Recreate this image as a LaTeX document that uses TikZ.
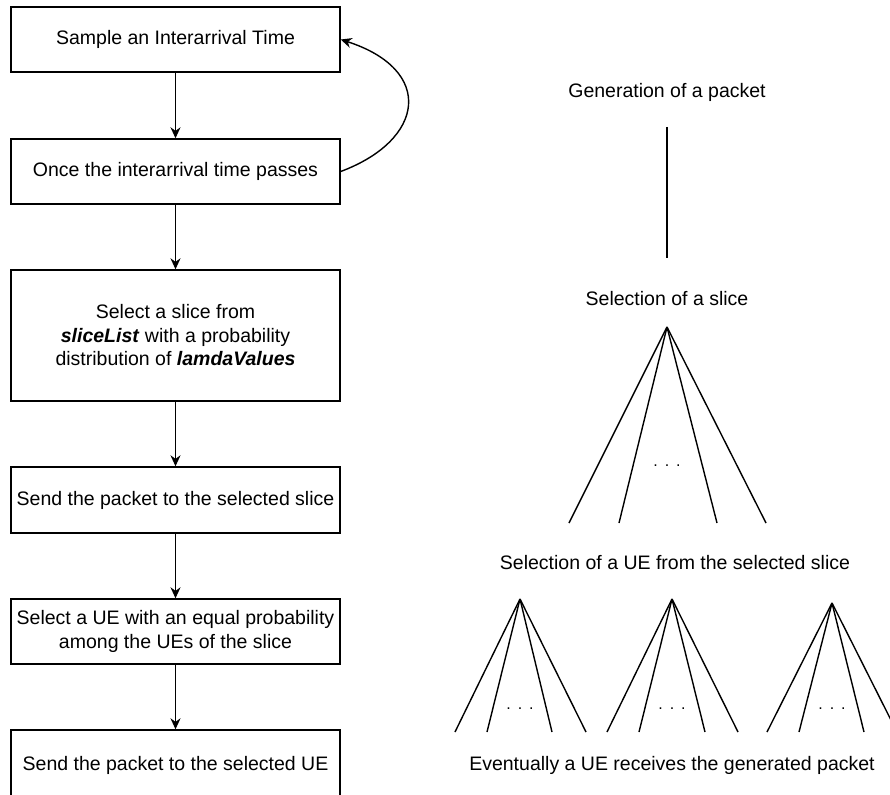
\documentclass[tikz,border=0pt]{standalone}
\usepackage{fontspec}
\setmainfont{Liberation Sans}
\usetikzlibrary{arrows.meta}

\tikzset{
  stepbox/.style={draw,line width=1.4pt,minimum width=329pt,inner sep=2pt,align=center,font=\fontsize{19.5}{23.5}\selectfont},
  lbl/.style={font=\fontsize{19.5}{23.5}\selectfont},
  dots/.style={font=\fontsize{16}{18}\selectfont},
  fan/.style={line width=1.4pt},
  flow/.style={line width=1.4pt,->,>={Stealth[length=11pt,width=10pt]}},
}

\begin{document}
\begin{tikzpicture}[x=1pt,y=-1pt]
    \useasboundingbox (0,0) rectangle (890,794);

    % left column
    \node[stepbox,minimum height=65pt] (sample) at (175.5,39.5) {Sample an Interarrival Time};
    \node[stepbox,minimum height=65pt] (passes) at (175.5,171.5) {Once the interarrival time passes};
    \node[stepbox,minimum height=131pt] (slice) at (175.5,335.5) {Select a slice from\\\textbf{\textit{sliceList}} with a probability\\distribution of \textbf{\textit{lamdaValues}}};
    \node[stepbox,minimum height=66pt] (sendslice) at (175.5,500) {Send the packet to the selected slice};
    \node[stepbox,minimum height=65pt] (selue) at (175.5,631.5) {Select a UE with an equal probability\\among the UEs of the slice};
    \node[stepbox,minimum height=70pt] (sendue) at (175.5,765) {Send the packet to the selected UE};

    \draw[flow] (sample) -- (passes);
    \draw[flow] (passes) -- (slice);
    \draw[flow] (slice) -- (sendslice);
    \draw[flow] (sendslice) -- (selue);
    \draw[flow] (selue) -- (sendue);
    \draw[flow] (passes.east) .. controls (425,140) and (435,70) .. (sample.east);

    % right tree
    \node[lbl] (gen) at (667,92) {Generation of a packet};
    \node[lbl] (selslice) at (667,299) {Selection of a slice};
    \node[lbl] (seluetxt) at (675,563) {Selection of a UE from the selected slice};
    \node[lbl] (recv) at (672,765) {Eventually a UE receives the generated packet};

    \coordinate (gtop) at (667,127);
    \coordinate (gbot) at (667,258);
    \draw[fan] (gtop) -- (gbot);

    \coordinate (sapex) at (667,327);
    \foreach \x in {569,619,717,766}
        \draw[fan] (sapex) -- (\x,523);
    \node[dots] (sdots) at (667,466) {.\hspace{7pt}.\hspace{7pt}.};

    \foreach \ax/\ay/\a/\b/\c/\d [count=\i] in {520/599/455/487/552/586, 672/599/607/639/705/738, 832/603/767/799/864/897}{
        \coordinate (uapex\i) at (\ax,\ay);
        \foreach \x in {\a,\b,\c,\d}
            \draw[fan] (uapex\i) -- (\x,732);
        \node[dots] (udots\i) at (\ax,709) {.\hspace{7pt}.\hspace{7pt}.};
    }
\end{tikzpicture}
\end{document}
